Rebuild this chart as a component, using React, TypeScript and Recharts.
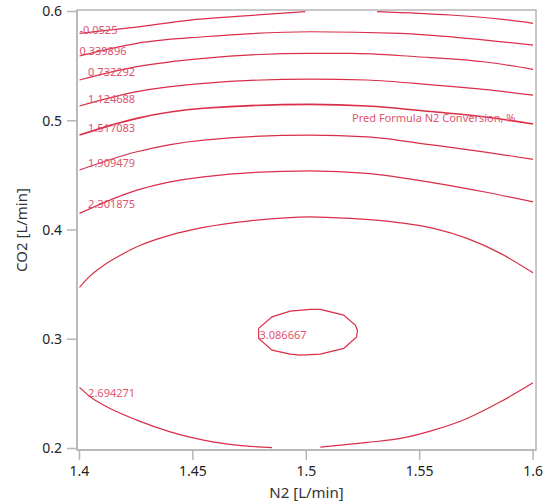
import React from "react";
import { LineChart, Line, XAxis, YAxis, ReferenceDot, ReferenceArea } from "recharts";

type Pt = [number, number];

// N2 / CO2 contour traces
const lvl0Left: Pt[] = [[1.4, 0.58], [1.425, 0.5858], [1.4488, 0.5922], [1.4694, 0.5955], [1.4996, 0.6]];
const lvl0Right: Pt[] = [[1.5312, 0.6], [1.5635, 0.5968], [1.5856, 0.5931], [1.6, 0.5892]];
const lvl1: Pt[] = [[1.4, 0.5593], [1.4253, 0.5709], [1.4547, 0.5769], [1.5018, 0.5815], [1.5415, 0.58], [1.5709, 0.5755], [1.6, 0.5693]];
const lvl2: Pt[] = [[1.4, 0.5373], [1.4253, 0.5495], [1.4547, 0.5571], [1.5018, 0.5617], [1.5194, 0.5617], [1.5488, 0.5586], [1.5782, 0.554], [1.6, 0.5471]];
const lvl3: Pt[] = [[1.4, 0.5135], [1.4253, 0.5266], [1.4547, 0.5342], [1.5018, 0.5382], [1.5268, 0.5373], [1.5562, 0.5327], [1.5782, 0.5288], [1.6, 0.5235]];
const lvl4: Pt[] = [[1.4, 0.4869], [1.4253, 0.5022], [1.4547, 0.5114], [1.5018, 0.515], [1.5268, 0.5135], [1.5562, 0.5082], [1.5782, 0.5037], [1.6, 0.497]];
const lvl5: Pt[] = [[1.4, 0.4549], [1.4253, 0.4716], [1.4547, 0.4823], [1.5018, 0.4869], [1.5268, 0.4853], [1.5562, 0.4777], [1.5782, 0.4716], [1.6, 0.4647]];
const lvl6: Pt[] = [[1.4, 0.4152], [1.4253, 0.4365], [1.4547, 0.4487], [1.5018, 0.4542], [1.5268, 0.4518], [1.5562, 0.4432], [1.5782, 0.435], [1.6, 0.4258]];
const lvl7Top: Pt[] = [
  [1.4, 0.3474], [1.4047, 0.358], [1.4106, 0.3675], [1.418, 0.3768], [1.4253, 0.3846], [1.44, 0.3953],
  [1.4547, 0.4024], [1.4753, 0.4084], [1.5018, 0.4121], [1.5194, 0.4106], [1.5415, 0.4066], [1.5562, 0.4015],
  [1.5709, 0.3923], [1.5856, 0.3786], [1.6, 0.3608],
];
const lvl7BottomLeft: Pt[] = [
  [1.4, 0.2559], [1.4047, 0.2473], [1.4106, 0.2397], [1.4253, 0.2259], [1.44, 0.2152], [1.4547, 0.2076],
  [1.4694, 0.203], [1.4849, 0.2008],
];
const lvl7BottomRight: Pt[] = [
  [1.5062, 0.2012], [1.5268, 0.2055], [1.5415, 0.2092], [1.5562, 0.2168], [1.5709, 0.2275], [1.5856, 0.2427], [1.6, 0.2601],
];
const lvl8: Pt[] = [
  [1.479, 0.3099], [1.4849, 0.3205], [1.4929, 0.3257], [1.5018, 0.3273], [1.5062, 0.3273], [1.5165, 0.3221],
  [1.5216, 0.3129], [1.5226, 0.3083], [1.5222, 0.3022], [1.5165, 0.2916], [1.5062, 0.2864], [1.4974, 0.2854],
  [1.4929, 0.2864], [1.4849, 0.29], [1.479, 0.3007], [1.479, 0.3099],
];

const levelLabels = ["-0.0525", "0.339896", "0.732292", "1.124688", "1.517083", "1.909479", "2.301875", "2.694271", "3.086667"];
const labelAnchors: Pt[] = [
  [1.4, 0.5831], [1.4, 0.5641], [1.4038, 0.5449], [1.4038, 0.5201], [1.4038, 0.4936],
  [1.4038, 0.4615], [1.4038, 0.4234], [1.4038, 0.2509], [1.4794, 0.3038],
];
const seriesTitle = "Pred Formula N2 Conversion, %";
const seriesTitleAnchor: Pt = [1.5202, 0.5022];

const xTicks = [1.4, 1.45, 1.5, 1.55, 1.6];
const yTicks = [0.2, 0.3, 0.4, 0.5, 0.6];
const xDomain: Pt = [1.3989, 1.6013];
const yDomain: Pt = [0.1986, 0.6014];

const traces: { pts: Pt[]; loop?: boolean; w?: number }[] = [
  { pts: lvl0Left }, { pts: lvl0Right }, { pts: lvl1 }, { pts: lvl2 }, { pts: lvl3 },
  { pts: lvl4, w: 1.6 }, { pts: lvl5 }, { pts: lvl6 }, { pts: lvl7Top },
  { pts: lvl7BottomLeft }, { pts: lvl7BottomRight }, { pts: lvl8, loop: true },
];

const LINE = "#d92d48";
const LABEL = "#de5470";
const FRAME = "#b6b6b6";
const FONT = "'Noto Sans', sans-serif";

const toRows = (pts: Pt[]) => pts.map(([x, y]) => ({ x, y }));

export default function App() {
  return (
    <div style={{ position: "absolute", left: 0, top: 0, background: "#fff", fontFamily: FONT }}>
      <LineChart width={549} height={504} margin={{ top: 10, right: 13, bottom: 0, left: 0 }}>
        <XAxis
          dataKey="x"
          type="number"
          domain={xDomain}
          allowDataOverflow
          ticks={xTicks}
          height={54}
          stroke={FRAME}
          strokeWidth={1.5}
          tickSize={10}
          tickMargin={6}
          tick={{ fill: "#222", fontSize: 14, fontFamily: FONT }}
          label={({ viewBox }: any) => (
            <text x={viewBox.x + viewBox.width / 2} y={viewBox.y + 48} textAnchor="middle" fill="#333" fontSize={15} fontFamily={FONT}>
              N2 [L/min]
            </text>
          )}
        />
        <YAxis
          dataKey="y"
          type="number"
          domain={yDomain}
          allowDataOverflow
          ticks={yTicks}
          width={77}
          stroke={FRAME}
          strokeWidth={1.5}
          tickSize={10}
          tickMargin={5}
          tick={{ fill: "#222", fontSize: 14, fontFamily: FONT }}
          label={({ viewBox }: any) => {
            const cx = 21;
            const cy = viewBox.y + viewBox.height / 2;
            return (
              <text x={cx} y={cy} transform={`rotate(-90 ${cx} ${cy})`} textAnchor="middle" dominantBaseline="central" fill="#333" fontSize={15} fontFamily={FONT}>
                CO2 [L/min]
              </text>
            );
          }}
        />
        <ReferenceArea x1={xDomain[0]} x2={xDomain[1]} y1={yDomain[0]} y2={yDomain[1]} fill="none" stroke={FRAME} strokeWidth={1.5} ifOverflow="visible" />
        {traces.map((t, i) => (
          <Line
            key={i}
            data={toRows(t.pts)}
            dataKey="y"
            type={t.loop ? "linear" : "monotone"}
            stroke={LINE}
            strokeWidth={t.w ?? 1.2}
            dot={false}
            activeDot={false}
            isAnimationActive={false}
          />
        ))}
        {labelAnchors.map(([x, y], i) => (
          <ReferenceDot
            key={`l${i}`}
            x={x}
            y={y}
            r={0}
            fill="none"
            stroke="none"
            label={{ value: levelLabels[i], position: "right", offset: 0, fill: LABEL, fontSize: 11, fontFamily: FONT }}
          />
        ))}
        <ReferenceDot
          x={seriesTitleAnchor[0]}
          y={seriesTitleAnchor[1]}
          r={0}
          fill="none"
          stroke="none"
          label={{ value: seriesTitle, position: "right", offset: 0, fill: LABEL, fontSize: 11, fontFamily: FONT }}
        />
      </LineChart>
    </div>
  );
}
